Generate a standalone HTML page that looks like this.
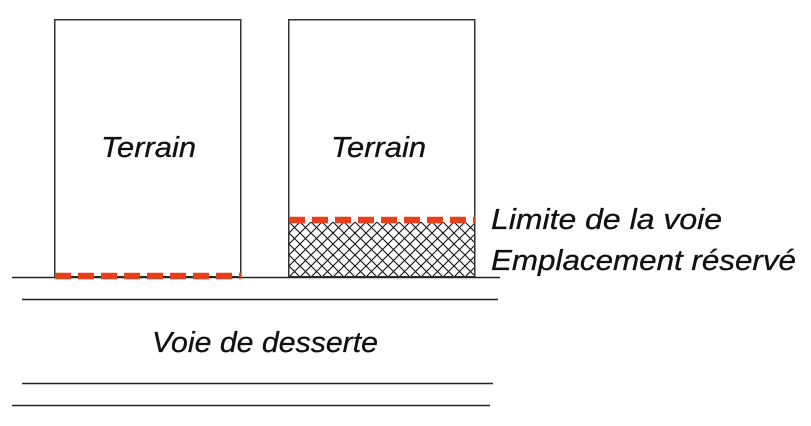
<!DOCTYPE html>
<html><head><meta charset="utf-8"><style>
html,body{margin:0;padding:0;background:#fff;}
svg{display:block;}
text{font-family:"Liberation Sans",sans-serif;font-style:italic;fill:#111;stroke:#111;stroke-width:0.3;}
</style></head><body>
<svg width="811" height="426" viewBox="0 0 811 426" xmlns="http://www.w3.org/2000/svg">
<defs>
<pattern id="h" width="11" height="11" patternUnits="userSpaceOnUse" x="289" y="222">
<path d="M0,0 L11,11 M11,0 L0,11" stroke="#111" stroke-width="1.1"/>
</pattern>
</defs>
<rect x="289" y="222" width="185" height="55" fill="url(#h)"/>
<rect x="54.75" y="19.75" width="186" height="257" fill="none" stroke="#333" stroke-width="1.5"/>
<rect x="288.75" y="19.75" width="186" height="257" fill="none" stroke="#333" stroke-width="1.5"/>
<line x1="12" y1="277.5" x2="500" y2="277.5" stroke="#222" stroke-width="1.5"/>
<line x1="22" y1="299.5" x2="498" y2="299.5" stroke="#222" stroke-width="1.5"/>
<line x1="22" y1="383.5" x2="493" y2="383.5" stroke="#222" stroke-width="1.5"/>
<line x1="12" y1="405.5" x2="490" y2="405.5" stroke="#222" stroke-width="1.5"/>
<line x1="55" y1="276" x2="241" y2="276" stroke="#e8401c" stroke-width="6.5" stroke-dasharray="16 7"/>
<line x1="289" y1="220" x2="475" y2="220" stroke="#e8401c" stroke-width="6.5" stroke-dasharray="16 7"/>
<text x="101" y="157" font-size="29" textLength="95" lengthAdjust="spacingAndGlyphs">Terrain</text>
<text x="331" y="157" font-size="29" textLength="95" lengthAdjust="spacingAndGlyphs">Terrain</text>
<text x="491" y="229" font-size="29" textLength="231" lengthAdjust="spacingAndGlyphs">Limite de la voie</text>
<text x="491" y="270" font-size="29" textLength="305" lengthAdjust="spacingAndGlyphs">Emplacement réservé</text>
<text x="152" y="352" font-size="29" textLength="226" lengthAdjust="spacingAndGlyphs">Voie de desserte</text>
</svg>
</body></html>
